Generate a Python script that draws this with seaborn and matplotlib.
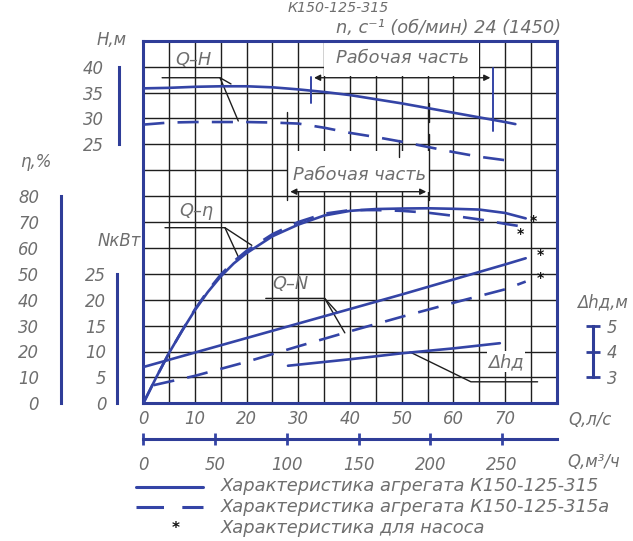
import numpy as np
import pandas as pd
import matplotlib
matplotlib.use("Agg")
import matplotlib.pyplot as plt
from matplotlib import font_manager as fm
from matplotlib.patches import Rectangle
from matplotlib.lines import Line2D
import seaborn as sns

# ---------------- data ----------------
Q_H1 = [0, 5, 10, 15, 20, 25, 30, 35, 40, 45, 50, 55, 60, 65, 70, 72]
H1 = [35.8, 35.9, 36.1, 36.2, 36.2, 36.0, 35.6, 35.1, 34.5, 33.7, 32.9, 32.0, 31.1, 30.2, 29.3, 28.9]
Q_H2 = [0, 5, 10, 15, 20, 25, 30, 35, 40, 45, 50, 55, 60, 65, 71]
H2 = [28.8, 29.2, 29.3, 29.3, 29.3, 29.2, 29.0, 28.2, 27.2, 26.4, 25.5, 24.5, 23.5, 22.6, 21.8]

Q_E1 = [0, 2.5, 5, 7.5, 10, 12.5, 15, 17.5, 20, 25, 30, 35, 40, 45, 50, 55, 60, 65, 70, 74]
ETA1 = [0, 10, 19.5, 28, 36, 43, 49, 54, 58, 64.5, 69, 72.5, 74.3, 75, 75.2, 75.3, 75.1, 74.8, 73.5, 71.4]
Q_E2 = [0, 2.5, 5, 7.5, 10, 12.5, 15, 17.5, 20, 25, 30, 35, 40, 45, 50, 55, 60, 65, 70, 73.5]
ETA2 = [0, 10, 19.5, 28, 36.3, 43.5, 49.7, 54.8, 58.9, 65.3, 70, 73.2, 74.6, 74.6, 74.3, 73.6, 72.4, 71.0, 69.3, 68.2]

Q_N1 = [0, 10, 20, 30, 40, 50, 60, 70, 74]
N1 = [7.0, 9.8, 12.6, 15.4, 18.2, 21.0, 23.9, 26.8, 28.0]
Q_N2 = [2, 10, 20, 30, 40, 50, 60, 70, 74]
N2 = [3.5, 5.3, 8.0, 11.0, 13.9, 16.7, 19.4, 22.0, 23.5]

Q_DH = [28, 40, 50, 60, 69]
DH = [3.45, 3.7, 3.93, 4.12, 4.32]

Q_TICKS = [0, 10, 20, 30, 40, 50, 60, 70]
QM3_TICKS = [0, 50, 100, 150, 200, 250]
H_TICKS = [25, 30, 35, 40]
ETA_TICKS = [0, 10, 20, 30, 40, 50, 60, 70, 80]
N_TICKS = [0, 5, 10, 15, 20, 25]
DH_TICKS = [3, 4, 5]

LEG_LABELS = ["Характеристика агрегата К150-125-315",
              "Характеристика агрегата К150-125-315а",
              "Характеристика для насоса"]

# ---------------- style ----------------
sns.set_theme(style="white")
names = {f.name for f in fm.fontManager.ttflist}
NARROW = "Liberation Sans Narrow" in names
FONT = "Liberation Sans Narrow" if NARROW else "DejaVu Sans"
plt.rcParams["font.family"] = [FONT, "DejaVu Sans"]
plt.rcParams["font.style"] = "italic"
K = 1.0 if NARROW else 0.85

BLUE = "#3444a6"
FRAME = "#2f3d98"
GRID = "#1e1e1e"
TXT = "#6e6e6e"
LW = 1.9

fig = plt.figure(figsize=(6.33, 5.41), dpi=100)
W_PX, H_PX = 633, 541
x0, x1, yb, yt = 143.3, 556.7, 403.3, 40.7
POS = [x0 / W_PX, 1 - yb / H_PX, (x1 - x0) / W_PX, (yb - yt) / H_PX]

def PT(px):
    return px * 0.72

# main grid axes (x: Q l/s, y: grid rows)
ax = fig.add_axes(POS)
ax.set_xlim(0, 80)
ax.set_ylim(0, 14)
ax.set_xticks(np.arange(0, 81, 5), minor=True)
ax.set_xticks(Q_TICKS)
ax.set_xticklabels([str(v) for v in Q_TICKS])
ax.set_yticks(np.arange(0, 15, 1))
ax.grid(which="both", color=GRID, lw=1.0)
ax.tick_params(axis="y", length=0, labelleft=False)
ax.tick_params(axis="x", which="minor", length=0)
ax.tick_params(axis="x", which="major", direction="in", length=5, width=2,
               color=BLUE, pad=5, labelsize=14 * K, labelcolor=TXT)
for s in ax.spines.values():
    s.set_color(FRAME)
    s.set_linewidth(2.2)

# secondary Q axis in m3/h
sec = ax.secondary_xaxis(-0.0985, functions=(lambda q: q * 3.6, lambda m: m / 3.6))
sec.set_xticks(QM3_TICKS)
sec.set_xticklabels([str(v) for v in QM3_TICKS])
sec.spines["bottom"].set_color(FRAME)
sec.spines["bottom"].set_linewidth(2.2)
sec.tick_params(axis="x", direction="inout", length=9, width=2, color=BLUE,
                pad=8, labelsize=14 * K, labelcolor=TXT)

def overlay(ylim, name):
    a = fig.add_axes(POS, label=name)
    a.patch.set_visible(False)
    for s in a.spines.values():
        s.set_visible(False)
    a.set_xlim(0, 80)
    a.set_ylim(*ylim)
    return a

def scale_bar(a, side, outward, bounds, ticks, pad):
    sp = a.spines[side]
    sp.set_visible(True)
    sp.set_position(("outward", PT(outward)))
    sp.set_bounds(*bounds)
    sp.set_color(FRAME)
    sp.set_linewidth(2.2)
    a.set_xticks([])
    a.set_yticks(ticks)
    a.set_yticklabels([str(t) for t in ticks])
    if side == "right":
        a.yaxis.tick_right()
    a.tick_params(axis="y", direction="inout", length=10, width=2, color=FRAME,
                  pad=pad, labelsize=14 * K, labelcolor=TXT)

axH = overlay((-25, 45), "H")
axE = overlay((0, 140), "eta")
axN = overlay((0, 70), "N")
axD = overlay((2, 16), "dh")

solid = dict(color=BLUE, lw=LW)
dashed = dict(color=BLUE, lw=LW, linestyle=(0, (8, 5)))

sns.lineplot(x=Q_H1, y=H1, ax=axH, **solid)
sns.lineplot(x=Q_H2, y=H2, ax=axH, **dashed)
sns.lineplot(x=Q_E1, y=ETA1, ax=axE, **solid)
sns.lineplot(x=Q_E2, y=ETA2, ax=axE, **dashed)
sns.lineplot(x=Q_N1, y=N1, ax=axN, **solid)
sns.lineplot(x=Q_N2, y=N2, ax=axN, **dashed)
sns.lineplot(x=Q_DH, y=DH, ax=axD, **solid)

for a, yl in ((axH, (-25, 45)), (axE, (0, 140)), (axN, (0, 70)), (axD, (2, 16))):
    a.set_xlim(0, 80)
    a.set_ylim(*yl)
    a.set_xlabel("")
    a.set_ylabel("")

scale_bar(axH, "left", 24, (25, 40), H_TICKS, 6)
scale_bar(axE, "left", 82, (0, 80), ETA_TICKS, 11)
scale_bar(axN, "left", 26, (0, 25), N_TICKS, 3)
scale_bar(axD, "right", 36, (3, 5), DH_TICKS, 5)

# ---------------- annotations (grid-row coordinates on main axes) ----------------
ann = dict(color=GRID, lw=1.0, zorder=4)
ax.add_patch(Rectangle((35, 12.65), 30, 1.33, facecolor="white", edgecolor="none", zorder=2))
ax.add_patch(Rectangle((28, 8.15), 27.3, 1.6, facecolor="white", edgecolor="none", zorder=2))
ax.text(50.1, 13.33, "Рабочая часть", ha="center", va="center", fontsize=15 * K, color=TXT, zorder=5)
ax.text(41.8, 8.82, "Рабочая часть", ha="center", va="center", fontsize=15 * K, color=TXT, zorder=5)

ax.annotate("", xy=(32.5, 12.57), xytext=(67.7, 12.57),
            arrowprops=dict(arrowstyle="<|-|>", color=GRID, lw=1.0, mutation_scale=9), zorder=4)
ax.annotate("", xy=(27.9, 8.17), xytext=(55.3, 8.17),
            arrowprops=dict(arrowstyle="<|-|>", color=GRID, lw=1.0, mutation_scale=9), zorder=4)
ax.plot([32.5, 32.5], [12.6, 11.6], color=BLUE, lw=1.4, zorder=4)
ax.plot([67.7, 67.7], [12.95, 10.5], color=BLUE, lw=1.4, zorder=4)
ax.plot([27.9, 27.9], [11.25, 7.85], color=GRID, lw=1.0, zorder=4)
ax.plot([55.3, 55.3], [10.4, 7.85], color=GRID, lw=1.0, zorder=4)
ax.plot([55.3, 55.3], [11.6, 10.85], color=GRID, lw=1.0, zorder=4)
ax.plot([49.5, 49.5], [10.17, 9.5], color=GRID, lw=1.0, zorder=4)

ax.text(9.65, 13.25, "Q–H", ha="center", va="center", fontsize=15 * K, color=TXT, zorder=5)
ax.plot([3.64, 14.84, 16.97], [12.57, 12.57, 12.33], **ann)
ax.plot([14.84, 18.38], [12.57, 10.9], **ann)

ax.text(10.2, 7.42, "Q–η", ha="center", va="center", fontsize=15 * K, color=TXT, zorder=5)
ax.plot([4.2, 15.8, 21.0], [6.78, 6.78, 6.1], **ann)
ax.plot([15.8, 18.4], [6.78, 5.65], **ann)

ax.text(28.4, 4.6, "Q–N", ha="center", va="center", fontsize=15 * K, color=TXT, zorder=5)
ax.plot([23.7, 35.1, 37.6], [4.05, 4.05, 3.5], **ann)
ax.plot([35.1, 39.0], [4.05, 2.72], **ann)

ax.text(70.2, 1.6, "Δhд", ha="center", va="center", fontsize=15 * K, color=TXT, zorder=5,
        bbox=dict(facecolor="white", edgecolor="none", pad=1))
ax.plot([51.6, 63.4, 76.3], [1.98, 0.83, 0.83], **ann)

for qx, ry in ((75.4, 7.05), (72.9, 6.55), (76.8, 5.73), (76.8, 4.84)):
    ax.text(qx, ry, "*", ha="center", va="center", fontsize=10, color="#111111",
            fontweight="bold", zorder=6)

# ---------------- axis titles ----------------
def ftxt(x, y, s, size=14, **kw):
    fig.text(x / W_PX, 1 - y / H_PX, s, fontsize=size * K, color=TXT, **kw)

ftxt(112, 40, "Н,м", ha="center", va="center")
ftxt(36, 162, "η,%", ha="center", va="center")
ftxt(141, 241, "NкВт", ha="right", va="center")
ftxt(602, 302, "Δhд,м", ha="center", va="center")
ftxt(590, 420, "Q,л/с", ha="center", va="center")
ftxt(594, 462, "Q,м³/ч", ha="center", va="center")
ftxt(338, 0.5, "К150-125-315", ha="center", va="top", size=12)
ftxt(449, 28, "n, с⁻¹ (об/мин) 24 (1450)", ha="center", va="center", size=15)

# ---------------- legend ----------------
def fline(xa, xb, y, **kw):
    fig.add_artist(Line2D([xa / W_PX, xb / W_PX], [1 - y / H_PX, 1 - y / H_PX],
                          transform=fig.transFigure, **kw))

fline(136, 203, 487, color=BLUE, lw=2.2)
fline(136, 203, 507, color=BLUE, lw=2.2, linestyle=(0, (9, 6)))
fig.text(176 / W_PX, 1 - 529 / H_PX, "*", fontsize=11, color="#111111",
         fontweight="bold", ha="center", va="center")
for i, lab in enumerate(LEG_LABELS):
    ftxt(221, 486 + i * 21, lab, size=15.2, ha="left", va="center")

fig.savefig("out.png", dpi=100)
